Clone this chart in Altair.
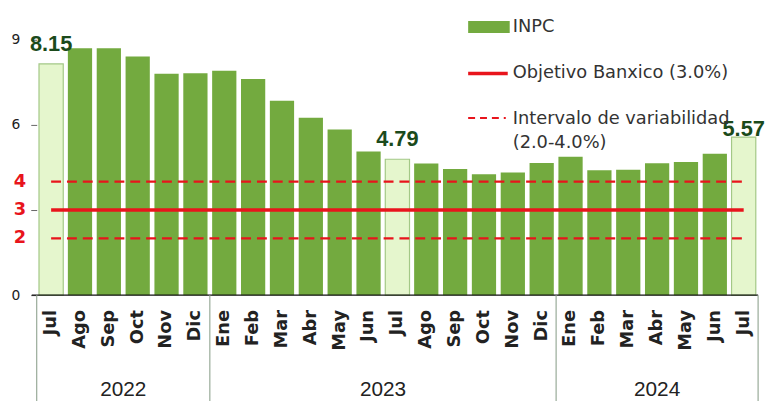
import altair as alt
import pandas as pd

months = ["Jul", "Ago", "Sep", "Oct", "Nov", "Dic",
          "Ene", "Feb", "Mar", "Abr", "May", "Jun", "Jul", "Ago", "Sep", "Oct", "Nov", "Dic",
          "Ene", "Feb", "Mar", "Abr", "May", "Jun", "Jul"]
inpc = [8.15, 8.70, 8.70, 8.41, 7.80, 7.82,
        7.91, 7.62, 6.85, 6.25, 5.84, 5.06, 4.79, 4.64, 4.45, 4.26, 4.32, 4.66,
        4.88, 4.40, 4.42, 4.65, 4.69, 4.98, 5.57]
highlight = [True, False, False, False, False, False,
             False, False, False, False, False, False, True, False, False, False, False, False,
             False, False, False, False, False, False, True]
year_names = ["2022", "2023", "2024"]
year_start = [0, 6, 18]
year_end = [6, 18, 25]
target = 3.0
band_low = 2.0
band_high = 4.0
y_ticks = [0, 3, 6, 9]
red_ticks = [2, 3, 4]
legend_texts = ["INPC", "Objetivo Banxico (3.0%)", "Intervalo de variabilidad", "(2.0-4.0%)"]

W, H = 729, 258
DARK = "#73aa3f"
LIGHT = "#e5f6cd"
RED = "#e8141c"

df = pd.DataFrame({"i": list(range(len(months))), "mes": months, "v": inpc, "hl": highlight})
years_df = pd.DataFrame({"anio": year_names, "s": year_start, "e": year_end})
bounds_df = pd.DataFrame({"b": sorted(set(year_start + year_end))})
lines_df = pd.DataFrame({"lvl": [band_low, target, band_high],
                         "kind": ["band", "target", "band"],
                         "x0": [0.5] * 3, "x1": [len(months) - 0.5] * 3})
red_df = pd.DataFrame({"t": red_ticks})
one = pd.DataFrame({"k": [0]})

xs = alt.Scale(domain=[0, len(months)], nice=False, zero=False)
ys = alt.Scale(domain=[0, 9], nice=False)

bars = alt.Chart(df).transform_calculate(
    x0="datum.i + 0.08", x1="datum.i + 0.92"
).mark_rect().encode(
    x=alt.X("x0:Q", scale=xs, axis=None),
    x2="x1:Q",
    y=alt.Y("v:Q", scale=ys, axis=alt.Axis(
        values=y_ticks, labelExpr="datum.value == 3 ? '' : datum.label", title=None,
        grid=False, domain=False, tickSize=6, tickColor="#666", labelFontSize=14,
        labelColor="#222", labelFont="DejaVu Sans", labelPadding=11)),
    y2=alt.datum(0),
    color=alt.condition("datum.hl", alt.value(LIGHT), alt.value(DARK)),
    stroke=alt.condition("datum.hl", alt.value("#a3c886"), alt.value(DARK)),
    strokeWidth=alt.condition("datum.hl", alt.value(1.2), alt.value(0)),
)

base_line = alt.Chart(one).mark_rule(color="#111", strokeWidth=1.2).encode(
    y=alt.datum(0, scale=ys), x=alt.value(-5), x2=alt.value(W))

target_line = alt.Chart(lines_df).transform_filter("datum.kind == 'target'").mark_rule(
    color=RED, strokeWidth=3.5).encode(
    x=alt.X("x0:Q", scale=xs), x2="x1:Q", y=alt.Y("lvl:Q", scale=ys))
band_lines = alt.Chart(lines_df).transform_filter("datum.kind == 'band'").mark_rule(
    color=RED, strokeWidth=2.2, strokeDash=[10, 6]).encode(
    x=alt.X("x0:Q", scale=xs), x2="x1:Q", y=alt.Y("lvl:Q", scale=ys))

red_labels = alt.Chart(red_df).mark_text(
    color=RED, font="DejaVu Sans", fontWeight="bold", fontSize=18, align="center",
    baseline="middle").encode(y=alt.Y("t:Q", scale=ys), x=alt.value(-17), text="t:Q")

val_labels = alt.Chart(df).transform_filter("datum.hl && datum.i < 24").transform_calculate(
    xm="datum.i + 0.5").mark_text(
    font="Liberation Sans", fontWeight="bold", fontSize=22, color="#1b4a1b",
    baseline="alphabetic", dy=-13).encode(
    x=alt.X("xm:Q", scale=xs), y=alt.Y("v:Q", scale=ys), text=alt.Text("v:Q", format=".2f"))
val_last = alt.Chart(df).transform_filter("datum.hl && datum.i == 24").transform_calculate(
    xm="datum.i + 0.5").mark_text(
    font="Liberation Sans", fontWeight="bold", fontSize=22, color="#1b4a1b",
    baseline="alphabetic", dy=-1).encode(
    x=alt.X("xm:Q", scale=xs), y=alt.Y("v:Q", scale=ys), text=alt.Text("v:Q", format=".2f"))

month_labels = alt.Chart(df).transform_calculate(xm="datum.i + 0.5").mark_text(
    angle=270, align="right", baseline="middle", font="DejaVu Sans", fontWeight="bold",
    fontSize=18, color="#222").encode(
    x=alt.X("xm:Q", scale=xs), y=alt.value(H + 15), text="mes:N")

separators = alt.Chart(bounds_df).mark_rule(color="#98aa98", strokeWidth=1.2).encode(
    x=alt.X("b:Q", scale=xs), y=alt.value(H), y2=alt.value(H + 130))

year_labels = alt.Chart(years_df).transform_calculate(c="(datum.s + datum.e) / 2").mark_text(
    font="Liberation Sans", fontSize=21, color="#222", baseline="alphabetic").encode(
    x=alt.X("c:Q", scale=xs), y=alt.value(H + 102), text="anio:N")

leg_rect = alt.Chart(one).mark_rect(color=DARK).encode(
    x=alt.value(436), x2=alt.value(478), y=alt.value(-19), y2=alt.value(-7))
leg_solid = alt.Chart(one).mark_rule(color=RED, strokeWidth=3.5).encode(
    x=alt.value(436), x2=alt.value(476), y=alt.value(34))
leg_dash = alt.Chart(one).mark_rule(color=RED, strokeWidth=2, strokeDash=[7, 5]).encode(
    x=alt.value(436), x2=alt.value(474), y=alt.value(79))

def leg_text(txt, y):
    return alt.Chart(one).mark_text(
        text=txt, font="DejaVu Sans", fontSize=18, color="#333", align="left",
        baseline="middle").encode(x=alt.value(481), y=alt.value(y))

legend = (leg_rect + leg_solid + leg_dash + leg_text(legend_texts[0], -13)
          + leg_text(legend_texts[1], 34) + leg_text(legend_texts[2], 80)
          + leg_text(legend_texts[3], 104))

chart = alt.layer(
    bars, base_line, band_lines, target_line, red_labels, val_labels, val_last,
    month_labels, separators, year_labels, legend
).properties(
    width=W, height=H,
    autosize=alt.AutoSizeParams(type="none"),
    padding={"left": 29, "top": 30, "right": 10, "bottom": 120},
    background="white",
).configure_view(stroke=None)

chart.save("out.html", embed_options={"renderer": "svg", "actions": False})
